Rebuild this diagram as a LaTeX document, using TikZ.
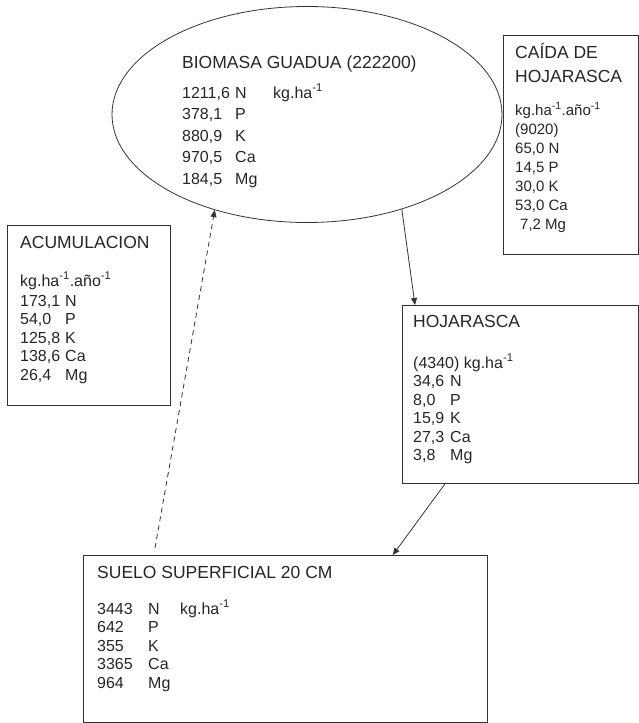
\documentclass[tikz,border=0pt]{standalone}
\usepackage{fontspec}
\setmainfont{Liberation Sans}
\usetikzlibrary{arrows,arrows.meta}
\usetikzlibrary{calc,shapes, shapes.geometric}
\tikzset{>=latex}
\tikzstyle{caja} = [draw=black!80, line width = 0.8pt, inner sep=0pt, anchor=north west]
\tikzstyle{titulo} = [%
					anchor=base west, inner sep=0pt, text=black!85,
					font=\fontsize{17.5}{20}\selectfont
					]
\tikzstyle{dato} = [anchor=base west, inner sep=0pt, text=black!85, font=\fontsize{16}{18}\selectfont]
\newcommand{\kgha}{kg.ha\textsuperscript{-1}}

\begin{document}
\begin{tikzpicture}[x=1pt,y=-1pt,>={Triangle[length=7pt,width=6pt]}]
    % Style for the flows between compartments
    \tikzstyle{flujo} = [draw=black!80, line width = 0.8pt, ->]
    \useasboundingbox (0,0) rectangle (639,723);

    % Compartments
    \node[ellipse, draw=black!80, line width = 0.8pt, inner sep=0pt,
          minimum width=390pt, minimum height=216pt] (bio) at (307,114.5) {};
    \node[caja, minimum width=135pt, minimum height=219pt] (caida) at (503,35) {};
    \node[caja, minimum width=163pt, minimum height=180pt] (acum)  at (7,225) {};
    \node[caja, minimum width=236pt, minimum height=178pt] (hoja)  at (402,305) {};
    \node[caja, minimum width=404pt, minimum height=167pt] (suelo) at (83,555) {};

    % BIOMASA GUADUA
    \node[titulo] (bio-t) at (182,68) {BIOMASA GUADUA (222200)};
    \node[dato] (bio-u) at (273,98) {\kgha};
    \foreach \num/\el [count=\i from 0] in {{1211,6}/N, {378,1}/P, {880,9}/K, {970,5}/Ca, {184,5}/Mg} {
        \node[dato] (bio-n\i) at (182,{98+21.5*\i}) {\num};
        \node[dato] (bio-e\i) at (235,{98+21.5*\i}) {\el};
    }

    % CAIDA DE HOJARASCA
    \node[titulo] (caida-t1) at (515,58.5) {CAÍDA DE};
    \node[titulo] (caida-t2) at (515,82) {HOJARASCA};
    \foreach \txt [count=\i from 0] in {{\kgha.año\textsuperscript{-1}}, (9020), {65,0 N}, {14,5 P}, {30,0 K}, {53,0 Ca}, {\hspace{5pt}7,2 Mg}} {
        \node[dato, font=\fontsize{15}{18}\selectfont] (caida-\i) at (515,{115+19*\i}) {\txt};
    }

    % ACUMULACION
    \node[titulo] (acum-t) at (20,248) {ACUMULACION};
    \node[dato] (acum-u) at (20,286) {\kgha.año\textsuperscript{-1}};
    \foreach \num/\el [count=\i from 0] in {{173,1}/N, {54,0}/P, {125,8}/K, {138,6}/Ca, {26,4}/Mg} {
        \node[dato] (acum-n\i) at (20,{306+18.5*\i}) {\num};
        \node[dato] (acum-e\i) at (65,{306+18.5*\i}) {\el};
    }

    % HOJARASCA
    \node[titulo] (hoja-t) at (413,327) {HOJARASCA};
    \node[dato] (hoja-u) at (413,368) {(4340) \kgha};
    \foreach \num/\el [count=\i from 0] in {{34,6}/N, {8,0}/P, {15,9}/K, {27,3}/Ca, {3,8}/Mg} {
        \node[dato] (hoja-n\i) at (413,{386.5+18.5*\i}) {\num};
        \node[dato] (hoja-e\i) at (450,{386.5+18.5*\i}) {\el};
    }

    % SUELO SUPERFICIAL
    \node[titulo] (suelo-t) at (97,578) {SUELO SUPERFICIAL 20 CM};
    \node[dato] (suelo-u) at (180,614) {\kgha};
    \foreach \num/\el [count=\i from 0] in {3443/N, 642/P, 355/K, 3365/Ca, 964/Mg} {
        \node[dato] (suelo-n\i) at (97,{614+18.5*\i}) {\num};
        \node[dato] (suelo-e\i) at (148,{614+18.5*\i}) {\el};
    }

    % Flows
    \draw[flujo] (bio.-45) -- ($(hoja.north west)+(13,0)$);
    \draw[flujo] ($(hoja.south west)+(43,0)$) -- ($(suelo.north east)+(-95,0)$);
    \coordinate (raiz) at (155,548);
    \draw[flujo, dash pattern=on 5pt off 4pt] (raiz) -- (bio.-134);

\end{tikzpicture}
\end{document}
